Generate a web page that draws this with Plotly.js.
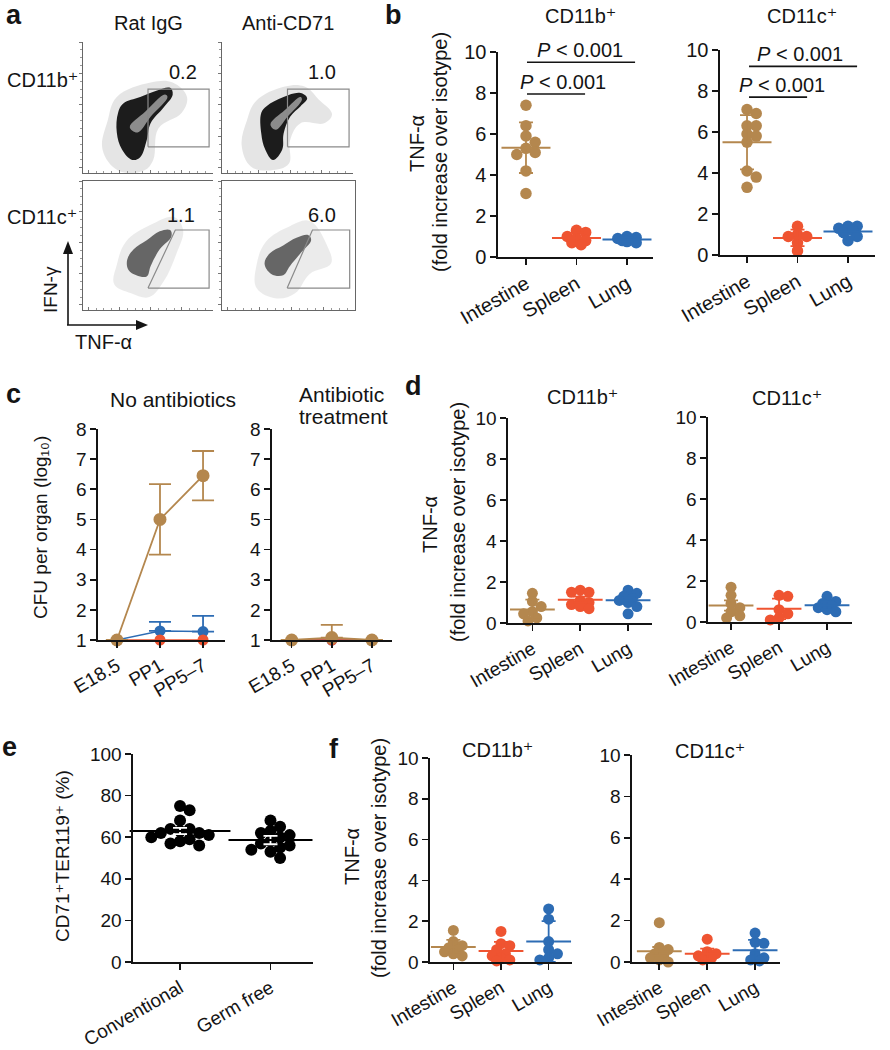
<!DOCTYPE html>
<html><head><meta charset="utf-8">
<script src="https://cdn.plot.ly/plotly-3.0.1.min.js"></script>
<style>body{margin:0;background:#fff}#chart{width:890px;height:1050px}</style>
</head><body><div id="chart"></div>
<script>
// ================= DATA =================
const organs = ['Intestine', 'Spleen', 'Lung'];
const timepoints = ['E18.5', 'PP1', 'PP5–7'];
const housing = ['Conventional', 'Germ free'];

// panel a: flow cytometry (outlines, display units 0–100)
const gateValues = ['0.2', '1.0', '1.1', '6.0'];
const gateLabelXY = [[77, 77], [76, 77], [75, 74], [75, 74]];
const gateRect = [[50, 20], [97, 20], [97, 64], [50, 64], [50, 20]];
const gateTrapIgG = [[50, 17], [71, 62], [97, 62], [97, 17], [50, 17]];
const gateTrapCD71 = [[49, 17], [68, 62], [96, 62], [96, 17], [49, 17]];
const igg11bHalo = [[19, 40], [26, 58], [52, 69], [69, 69], [80, 58], [76, 46], [58, 34], [54, 10], [47, 2], [27, 2], [15, 18]];
const igg11bBody = [[27, 46], [31, 53], [44, 58], [57, 63], [67, 65], [69, 60], [62, 50], [52, 38], [49, 25], [44, 12], [38, 10], [30, 18], [26, 31]];
const igg11bCore = [[36, 35], [48, 47], [63, 60], [65, 58], [52, 43], [42, 31]];
const cd71b11Halo = [[19, 40], [26, 55], [48, 66], [63, 66], [74, 56], [84, 45], [78, 38], [60, 38], [52, 25], [51, 7], [37, 2], [22, 5], [15, 21]];
const cd71b11Body = [[30, 46], [34, 51], [47, 58], [60, 61], [65, 57], [60, 51], [52, 43], [47, 30], [46, 18], [39, 10], [33, 18], [30, 30]];
const cd71b11Core = [[37, 37], [48, 48], [60, 58], [61, 56], [50, 43], [41, 33]];
const igg11cHalo = [[26, 35], [33, 53], [52, 66], [70, 72], [77, 62], [72, 44], [62, 22], [51, 10], [37, 13], [24, 20]];
const igg11cBody = [[34, 39], [39, 47], [49, 54], [59, 61], [67, 62], [68, 57], [59, 47], [52, 34], [49, 26], [41, 27], [35, 31]];
const cd71c11Halo = [[26, 35], [33, 53], [51, 65], [66, 69], [79, 50], [82, 36], [66, 28], [55, 13], [41, 9], [26, 17]];
const cd71c11Body = [[32, 36], [36, 44], [46, 50], [56, 56], [65, 58], [67, 54], [59, 44], [51, 34], [46, 27], [37, 28]];

// panel b: TNF-α fold increase (points)
const bCD11bIntestine = [7.4, 6.4, 5.9, 5.6, 5.3, 5.1, 5.0, 4.2, 3.1];
const bCD11bSpleen = [1.3, 1.2, 1.0, 0.9, 0.8, 0.7, 0.6];
const bCD11bLung = [1.0, 0.95, 0.9, 0.85, 0.8, 0.75, 0.7];
const bCD11cIntestine = [7.1, 6.9, 6.3, 6.3, 5.9, 5.8, 5.5, 4.1, 3.8, 3.3];
const bCD11cSpleen = [1.4, 1.0, 0.9, 0.9, 0.6, 0.2];
const bCD11cLung = [1.4, 1.4, 1.3, 1.2, 1.1, 0.9, 0.7];
// significance brackets: [x0, x1, y, textX]
const bCD11bBrackets = [[0.02, 2.16, 9.5, 1.07], [0.02, 1.17, 7.95, 0.73]];
const bCD11cBrackets = [[0.04, 2.18, 9.2, 1.05], [0.04, 1.19, 7.7, 0.69]];
const pText = '<i>P</i> < 0.001';

// panel c: CFU per organ (log10)
const cNoAbxIntestine = [1.0, 5.0, 6.45];
const cNoAbxIntestineErr = [0, 1.17, 0.82];
const cNoAbxLung = [1.0, 1.3, 1.28];
const cNoAbxLungErr = [0, 0.3, 0.52];
const cNoAbxSpleen = [1.0, 1.0, 1.0];
const cAbxIntestine = [1.0, 1.08, 1.0];
const cAbxIntestineErr = [0, 0.42, 0];
const cAbxLung = [1.0, 1.0, 1.0];
const cAbxSpleen = [1.0, 1.0, 1.0];

// panel d
const dCD11bIntestine = [1.45, 1.05, 0.8, 0.55, 0.45, 0.25, 0.1];
const dCD11bSpleen = [1.6, 1.5, 1.5, 1.1, 1.0, 0.9, 0.8, 0.7];
const dCD11bLung = [1.6, 1.45, 1.3, 1.2, 1.1, 1.0, 0.8, 0.45];
const dCD11bErr = [0.48, 0.15, 0.15];
const dCD11cIntestine = [1.7, 1.3, 0.9, 0.7, 0.5, 0.3, 0.2];
const dCD11cSpleen = [1.3, 1.25, 0.6, 0.4, 0.2, 0.1];
const dCD11cLung = [1.25, 1.0, 0.9, 0.8, 0.7, 0.6, 0.5];
const dCD11cErr = [0.25, 0.5, 0.2];

// panel e
const eConventional = [75, 73, 68, 64, 64, 63, 62, 62, 61, 60, 59, 58, 57, 56];
const eGermFree = [68, 65, 63, 62, 61, 60, 58, 57, 56, 55, 54, 53, 50];
const eErr = [1.5, 2.0];

// panel f
const fCD11bIntestine = [1.55, 1.0, 0.8, 0.7, 0.6, 0.5, 0.4, 0.3];
const fCD11bSpleen = [1.5, 0.9, 0.8, 0.6, 0.4, 0.3, 0.2, 0.1, 0.05];
const fCD11bLung = [2.6, 2.1, 1.0, 0.6, 0.4, 0.2, 0.1];
const fCD11bErr = [0.35, 0.45, 1.0];
const fCD11cIntestine = [1.9, 0.7, 0.6, 0.4, 0.3, 0.2, 0.1, 0.0];
const fCD11cSpleen = [1.1, 0.5, 0.4, 0.3, 0.2, 0.1, 0.2];
const fCD11cLung = [1.4, 0.95, 0.9, 0.4, 0.2, 0.1, 0.05];
const fCD11cErr = [0.2, 0.25, 0.5];

// ================= LAYOUT HELPERS =================
const W = 890, H = 1050;
const dx = (a, b) => [a / W, b / W];
const dy = (t, b) => [1 - b / H, 1 - t / H];
const px = v => v / W, py = v => 1 - v / H;
const FONT = '"Liberation Sans", Arial, Helvetica, "DejaVu Sans", sans-serif';
const INK = '#141414';
const BROWN = '#b4874e', RED = '#ef5431', BLUE = '#2d6cb4';

const layout = {
  width: W, height: H, margin: {l: 0, r: 0, t: 0, b: 0},
  paper_bgcolor: '#fff', plot_bgcolor: 'rgba(0,0,0,0)', showlegend: false, hovermode: false,
  font: {family: FONT, size: 19, color: INK}, annotations: [], shapes: []
};
const traces = [];
const an = n => (n === 1 ? '' : String(n));

function catAxis(n, dom, range, text, fs) {
  layout['xaxis' + an(n)] = {
    domain: dom, range: range, anchor: 'y' + an(n), tickmode: 'array',
    tickvals: text.map((_, i) => i), ticktext: text, tickangle: -30,
    showline: true, linecolor: INK, linewidth: 1.6, ticks: 'outside', ticklen: 6, tickwidth: 1.6,
    tickcolor: INK, showgrid: false, zeroline: false, tickfont: {size: fs}, fixedrange: true
  };
}
function valAxis(n, dom, range, vals, fs) {
  layout['yaxis' + an(n)] = {
    domain: dom, range: range, anchor: 'x' + an(n), tickmode: 'array', tickvals: vals,
    showline: true, linecolor: INK, linewidth: 1.6, ticks: 'outside', ticklen: 6, tickwidth: 1.6,
    tickcolor: INK, showgrid: false, zeroline: false, tickfont: {size: fs}, fixedrange: true
  };
}
function text(t, x, y, size, opts) {
  layout.annotations.push(Object.assign({
    text: t, x: px(x), y: py(y), xref: 'paper', yref: 'paper', showarrow: false,
    xanchor: 'center', yanchor: 'middle', font: {size: size, color: INK}
  }, opts || {}));
}
const mean = a => a.reduce((s, v) => s + v, 0) / a.length;
const sd = a => { const m = mean(a); return Math.sqrt(a.reduce((s, v) => s + (v - m) ** 2, 0) / (a.length - 1)); };

// deterministic beeswarm: spread overlapping points sideways (offsets in category units)
function swarm(vals, yPx, catPx, diam, sep, maxOff) {
  const idx = vals.map((_, i) => i).sort((a, b) => vals[b] - vals[a]);
  const placed = [], off = new Array(vals.length).fill(0), step = diam * 0.4;
  for (const i of idx) {
    const y = vals[i] * yPx;
    let best = 0, bestD = -1;
    for (let k = 0; k < 40; k++) {
      const c = k === 0 ? 0 : (k % 2 ? 1 : -1) * Math.ceil(k / 2) * step;
      if (Math.abs(c) > maxOff * diam) break;
      const dmin = placed.length ? Math.min(...placed.map(p => Math.hypot(p.x - c, p.y - y))) : 1e9;
      if (dmin >= diam * sep) { best = c; bestD = 1e9; break; }
      if (dmin > bestD) { bestD = dmin; best = c; }
    }
    off[i] = best / catPx; placed.push({x: best, y: y});
  }
  return off;
}

function dotPanel(n, groups, o) {
  groups.forEach((g, ci) => {
    const off = swarm(g.vals, o.yPx, o.catPx, o.diam, o.sep, o.maxOff);
    traces.push({
      type: 'scatter', mode: 'markers', xaxis: 'x' + an(n), yaxis: 'y' + an(n),
      x: g.vals.map((v, i) => ci + off[i]), y: g.vals, cliponaxis: false,
      marker: {size: o.diam, color: g.color, line: {width: 0}}
    });
    const lc = o.lineColor || g.color;
    traces.push({
      type: 'scatter', mode: 'markers', xaxis: 'x' + an(n), yaxis: 'y' + an(n),
      x: [ci], y: [mean(g.vals)], cliponaxis: false,
      marker: {symbol: 'line-ew', size: g.meanW || o.meanW, color: lc, line: {width: 2, color: lc}},
      error_y: {type: 'data', array: [g.err], visible: true, color: o.errColor || g.color, thickness: 1.8, width: o.cap}
    });
  });
}

function poly(n, pts, fill) {
  traces.push({
    type: 'scatter', mode: 'lines', xaxis: 'x' + an(n), yaxis: 'y' + an(n),
    x: pts.map(p => p[0]).concat([pts[0][0]]), y: pts.map(p => p[1]).concat([pts[0][1]]),
    fill: 'toself', fillcolor: fill, line: {width: 0, shape: 'spline', smoothing: 1.1}
  });
}
function gate(n, pts) {
  traces.push({
    type: 'scatter', mode: 'lines', xaxis: 'x' + an(n), yaxis: 'y' + an(n),
    x: pts.map(p => p[0]), y: pts.map(p => p[1]), line: {color: '#8a8a8a', width: 1.2}
  });
}
function flowAxes(n, xd, yd, mirX, mirY) {
  const base = {
    range: [0, 100], showline: true, linecolor: '#666', linewidth: 1.1, showgrid: false,
    zeroline: false, showticklabels: false, tickmode: 'linear', tick0: 4, dtick: 24,
    ticklen: 3, tickcolor: '#777', tickwidth: 1, fixedrange: true,
    minor: {ticklen: 2, dtick: 6, tick0: 4, tickcolor: '#999', showgrid: false}
  };
  layout['xaxis' + an(n)] = Object.assign({}, base, {domain: xd, anchor: 'y' + an(n), ticks: 'inside', mirror: mirX, minor: Object.assign({ticks: 'inside'}, base.minor)});
  layout['yaxis' + an(n)] = Object.assign({}, base, {domain: yd, anchor: 'x' + an(n), ticks: 'outside', mirror: mirY, minor: Object.assign({ticks: 'outside'}, base.minor)});
}

// ================= PANEL a =================
flowAxes(1, dx(83, 213), dy(42, 173), false, false);
flowAxes(2, dx(222, 353), dy(42, 173), false, false);
flowAxes(3, dx(83, 213), dy(181, 310), true, false);
flowAxes(4, dx(222, 355), dy(181, 310), true, true);
poly(1, igg11bHalo, 'rgba(0,0,0,0.1)'); poly(1, igg11bBody, '#1c1c1c'); poly(1, igg11bCore, '#8c8c8c');
poly(2, cd71b11Halo, 'rgba(0,0,0,0.1)'); poly(2, cd71b11Body, '#1c1c1c'); poly(2, cd71b11Core, '#8c8c8c');
poly(3, igg11cHalo, 'rgba(0,0,0,0.08)'); poly(3, igg11cBody, 'rgba(45,45,45,0.7)');
poly(4, cd71c11Halo, 'rgba(0,0,0,0.08)'); poly(4, cd71c11Body, 'rgba(45,45,45,0.7)');
gate(1, gateRect); gate(2, gateRect); gate(3, gateTrapIgG); gate(4, gateTrapCD71);
gateValues.forEach((v, i) => {
  layout.annotations.push({text: v, x: gateLabelXY[i][0], y: gateLabelXY[i][1], xref: 'x' + an(i + 1), yref: 'y' + an(i + 1),
    showarrow: false, font: {size: 20, color: INK}});
});
text('<b>a</b>', 14, 15, 27);
text('Rat IgG', 148, 23, 20);
text('Anti-CD71', 288, 23, 20);
text('CD11b⁺', 42, 80, 20);
text('CD11c⁺', 42, 217, 20);
// axis arrows (decoration)
const P = (x, y) => px(x).toFixed(5) + ',' + py(y).toFixed(5);
layout.shapes.push({type: 'line', xref: 'paper', yref: 'paper', x0: px(68), x1: px(68), y0: py(325), y1: py(252), line: {color: INK, width: 1.6}});
layout.shapes.push({type: 'path', xref: 'paper', yref: 'paper', path: 'M' + P(63, 254) + 'L' + P(68, 241) + 'L' + P(73, 254) + 'Z', fillcolor: INK, line: {width: 0}});
layout.shapes.push({type: 'line', xref: 'paper', yref: 'paper', x0: px(67), x1: px(138), y0: py(325), y1: py(325), line: {color: INK, width: 1.6}});
layout.shapes.push({type: 'path', xref: 'paper', yref: 'paper', path: 'M' + P(136, 320) + 'L' + P(148, 325) + 'L' + P(136, 330) + 'Z', fillcolor: INK, line: {width: 0}});
text('IFN-γ', 50, 290, 19, {textangle: -90});
text('TNF-α', 103, 342, 20);

// ================= PANEL b =================
catAxis(5, dx(498, 653), [-0.554, 2.515], organs, 20);
valAxis(5, dy(52, 257), [0, 10], [0, 2, 4, 6, 8, 10], 20);
catAxis(6, dx(720, 875), [-0.535, 2.535], organs, 20);
valAxis(6, dy(50, 255), [0, 10], [0, 2, 4, 6, 8, 10], 20);
const bOpt = {yPx: 20.5, catPx: 50.5, diam: 11.5, meanW: 35, cap: 7, sep: 0.68, maxOff: 1.0};
dotPanel(5, [
  {vals: bCD11bIntestine, color: BROWN, err: sd(bCD11bIntestine)},
  {vals: bCD11bSpleen, color: RED, err: sd(bCD11bSpleen)},
  {vals: bCD11bLung, color: BLUE, err: sd(bCD11bLung)}], bOpt);
dotPanel(6, [
  {vals: bCD11cIntestine, color: BROWN, err: sd(bCD11cIntestine)},
  {vals: bCD11cSpleen, color: RED, err: sd(bCD11cSpleen)},
  {vals: bCD11cLung, color: BLUE, err: sd(bCD11cLung)}], bOpt);
[[5, bCD11bBrackets], [6, bCD11cBrackets]].forEach(([n, br]) => {
  br.forEach(b => {
    layout.shapes.push({type: 'line', xref: 'x' + n, yref: 'y' + n, x0: b[0], x1: b[1], y0: b[2], y1: b[2], line: {color: INK, width: 1.6}});
    layout.annotations.push({text: pText, x: b[3], y: b[2], xref: 'x' + n, yref: 'y' + n, yanchor: 'bottom', yshift: -1,
      showarrow: false, font: {size: 20, color: INK}});
  });
});
text('<b>b</b>', 393, 15, 27);
text('CD11b⁺', 580, 16, 20);
text('CD11c⁺', 802, 16, 20);
text('TNF-α', 417, 144, 20, {textangle: -90});
text('(fold increase over isotype)', 440, 152, 20, {textangle: -90});

// ================= PANEL c =================
catAxis(7, dx(98, 225), [-0.44, 2.51], timepoints, 19);
valAxis(7, dy(429, 640), [1, 8], [1, 2, 3, 4, 5, 6, 7, 8], 19);
catAxis(8, dx(272, 392), [-0.49, 2.5], timepoints, 19);
valAxis(8, dy(429, 640), [1, 8], [1, 2, 3, 4, 5, 6, 7, 8], 19);
function cLine(n, vals, err, color, size, width, symmetric) {
  const t = {type: 'scatter', mode: 'lines+markers', xaxis: 'x' + an(n), yaxis: 'y' + an(n),
    x: vals.map((_, i) => i), y: vals, cliponaxis: false,
    line: {color: color, width: width}, marker: {size: size, color: color}};
  if (err) t.error_y = {type: 'data', array: err, arrayminus: err.map(e => (symmetric ? e : 0)),
    color: color, thickness: 1.8, width: 11, visible: true};
  traces.push(t);
}
cLine(7, cNoAbxLung, cNoAbxLungErr, BLUE, 11, 1.4, false);
cLine(7, cNoAbxSpleen, null, RED, 11, 1.6, false);
cLine(7, cNoAbxIntestine, cNoAbxIntestineErr, BROWN, 13, 1.8, true);
cLine(8, cAbxLung, null, BLUE, 11, 1.4, false);
cLine(8, cAbxSpleen, null, RED, 11, 1.6, false);
cLine(8, cAbxIntestine, cAbxIntestineErr, BROWN, 13, 1.8, false);
text('<b>c</b>', 13, 394, 27);
text('No antibiotics', 173, 399, 21);
text('Antibiotic', 297, 394, 21, {xanchor: 'left'});
text('treatment', 297, 416, 21, {xanchor: 'left'});
text('CFU per organ (log₁₀)', 40, 528, 19, {textangle: -90});

// ================= PANEL d =================
catAxis(9, dx(508, 652), [-0.51, 2.5], organs, 19);
valAxis(9, dy(418, 623), [0, 10], [0, 2, 4, 6, 8, 10], 19);
catAxis(10, dx(708, 852), [-0.48, 2.52], organs, 19);
valAxis(10, dy(417, 622), [0, 10], [0, 2, 4, 6, 8, 10], 19);
const dOpt = {yPx: 20.5, catPx: 48, diam: 11, meanW: 32, cap: 7, sep: 0.68, maxOff: 1.1};
dotPanel(9, [
  {vals: dCD11bIntestine, color: BROWN, err: dCD11bErr[0]},
  {vals: dCD11bSpleen, color: RED, err: dCD11bErr[1]},
  {vals: dCD11bLung, color: BLUE, err: dCD11bErr[2]}], dOpt);
dotPanel(10, [
  {vals: dCD11cIntestine, color: BROWN, err: dCD11cErr[0]},
  {vals: dCD11cSpleen, color: RED, err: dCD11cErr[1]},
  {vals: dCD11cLung, color: BLUE, err: dCD11cErr[2]}], dOpt);
text('<b>d</b>', 413, 386, 27);
text('CD11b⁺', 582, 397, 20);
text('CD11c⁺', 787, 398, 20);
text('TNF-α', 430, 525, 20, {textangle: -90});
text('(fold increase over isotype)', 458, 522, 20, {textangle: -90});

// ================= PANEL e =================
catAxis(11, dx(133, 313), [-0.52, 1.47], housing, 19);
valAxis(11, dy(754, 962), [0, 100], [0, 20, 40, 60, 80, 100], 19);
dotPanel(11, [
  {vals: eConventional, color: '#000', err: eErr[0], meanW: 72},
  {vals: eGermFree, color: '#000', err: eErr[1], meanW: 60}],
  {yPx: 2.077, catPx: 90.7, diam: 12, meanW: 66, cap: 7, sep: 0.8, maxOff: 2.6, lineColor: '#000', errColor: '#fff'});
text('<b>e</b>', 9, 747, 27);
text('CD71⁺TER119⁺ (%)', 62, 856, 19, {textangle: -90});

// ================= PANEL f =================
catAxis(12, dx(430, 572), [-0.49, 2.49], organs, 19);
valAxis(12, dy(758, 962), [0, 10], [0, 2, 4, 6, 8, 10], 19);
catAxis(13, dx(632, 780), [-0.57, 2.52], organs, 19);
valAxis(13, dy(755, 962), [0, 10], [0, 2, 4, 6, 8, 10], 19);
const fOpt = {yPx: 20.4, catPx: 47.6, diam: 11, meanW: 32, cap: 7, sep: 0.68, maxOff: 1.1};
dotPanel(12, [
  {vals: fCD11bIntestine, color: BROWN, err: fCD11bErr[0]},
  {vals: fCD11bSpleen, color: RED, err: fCD11bErr[1]},
  {vals: fCD11bLung, color: BLUE, err: fCD11bErr[2]}], fOpt);
dotPanel(13, [
  {vals: fCD11cIntestine, color: BROWN, err: fCD11cErr[0]},
  {vals: fCD11cSpleen, color: RED, err: fCD11cErr[1]},
  {vals: fCD11cLung, color: BLUE, err: fCD11cErr[2]}], fOpt);
text('<b>f</b>', 334, 749, 27);
text('CD11b⁺', 497, 750, 20);
text('CD11c⁺', 710, 751, 20);
text('TNF-α', 352, 857, 20, {textangle: -90});
text('(fold increase over isotype)', 379, 858, 20, {textangle: -90});

Plotly.newPlot('chart', traces, layout, {staticPlot: true, displayModeBar: false});
</script></body></html>
